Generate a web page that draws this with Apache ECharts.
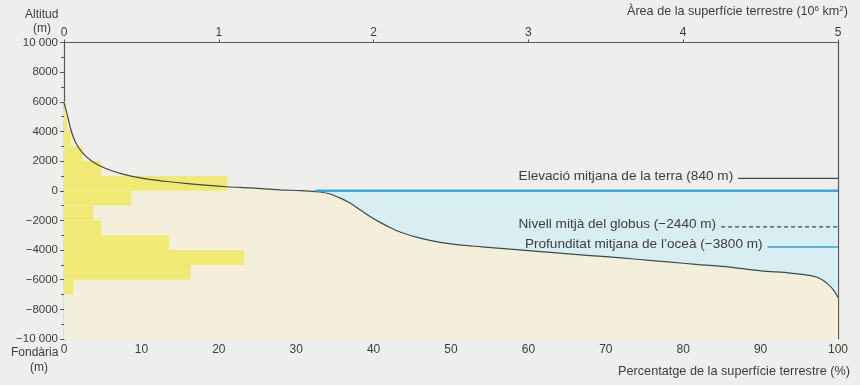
<!DOCTYPE html>
<html><head><meta charset="utf-8">
<script src="https://cdn.jsdelivr.net/npm/echarts@6/dist/echarts.min.js"></script>
<style>html,body{margin:0;padding:0;background:#eeeeec}#c{width:860px;height:385px}</style>
</head><body><div id="c"></div>
<script>
// Hypsometric curve: [percent of Earth's surface, elevation m]
const curvePct  = [0, 0.5, 0.9, 1.5, 2.4, 3.7, 5.4, 7.6, 10.2, 13, 16, 21, 24, 28, 30.5, 32.5, 34, 35.7, 37, 38.3, 39.6, 40.9, 42.2, 43.5, 46, 48.6, 51, 54, 58, 62, 66, 70, 74, 78, 82, 86, 90, 93.9, 96.5, 97.8, 98.7, 99.5, 100];
const curveElev = [5950, 4950, 4100, 3250, 2550, 1950, 1500, 1120, 830, 640, 480, 270, 190, 60, 10, -60, -170, -500, -850, -1300, -1750, -2150, -2500, -2800, -3200, -3480, -3650, -3780, -3950, -4120, -4290, -4450, -4620, -4800, -4980, -5150, -5400, -5550, -5730, -5950, -6300, -6750, -7200];
// Histogram: elevation bins (m) and percentage of surface
const binLow   = [5000, 4000, 3000, 2000, 1000, 0, -1000, -2000, -3000, -4000, -5000, -6000, -7000];
const binHigh  = [6000, 5000, 4000, 3000, 2000, 1000, 0, -1000, -2000, -3000, -4000, -5000, -6000];
const binPct   = [0.2, 0.45, 0.9, 2.4, 4.8, 21.1, 8.7, 3.8, 4.8, 13.6, 23.3, 16.4, 1.2];
// Ocean starts where curve reaches sea level
const oceanStartPct = 32.5;
// Reference levels
const meanLand = 840, meanGlobe = -2440, meanOcean = -3800;
const refStart = [87.1, 84.9, 90.9];
const refLabels = ['Elevació mitjana de la terra (840 m)', 'Nivell mitjà del globus (−2440 m)', 'Profunditat mitjana de l\u2019oceà (−3800 m)'];

const FONT = 'Liberation Sans, Arial, sans-serif';
const TXT = '#3c3c3c';
const AX = '#555a55';

const curve = curvePct.map((p,i)=>[p, curveElev[i]]);
const bins = binLow.map((l,i)=>[l, binHigh[i], binPct[i]]);

function yfmt(v){
  const a = Math.abs(v);
  const s = a === 10000 ? '10 000' : String(a);
  return (v < 0 ? '\u2212' : '') + s;
}

function refSeries(y, x0, label, color, type, w){
  return {
    type:'line', xAxisIndex:0, yAxisIndex:0, z:8, silent:true,
    symbol:'circle', symbolSize:0, showSymbol:true,
    lineStyle:{color:color, width:w, type:type},
    itemStyle:{color:color},
    data:[{value:[x0, y], label:{show:true, position:'left', distance:5, offset:[0,-2.5], formatter:label,
      color:TXT, fontFamily:FONT, fontSize:13.6}}, [100, y]]
  };
}

const chart = echarts.init(document.getElementById('c'), null, {renderer:'canvas'});
chart.setOption({
  backgroundColor:'#eeeeec',
  animation:false,
  grid:{left:64, right:22, top:42.5, bottom:46},
  xAxis:[{
    type:'value', min:0, max:100, interval:10, position:'bottom',
    axisLine:{show:true, lineStyle:{color:AX, width:1.2}},
    axisTick:{show:true, length:3, lineStyle:{color:AX}},
    axisLabel:{color:TXT, fontFamily:FONT, fontSize:12, margin:5},
    splitLine:{show:false}
  },{
    type:'value', min:0, max:5, interval:1, position:'top',
    axisLine:{show:true, onZero:false, lineStyle:{color:AX, width:1.2}},
    axisTick:{show:true, length:3, lineStyle:{color:AX}},
    axisLabel:{color:TXT, fontFamily:FONT, fontSize:12, margin:4},
    splitLine:{show:false}
  }],
  yAxis:[{
    type:'value', min:-10000, max:10000, interval:2000,
    axisLine:{show:true, onZero:false, lineStyle:{color:AX, width:1.2}},
    axisTick:{show:true, length:4, lineStyle:{color:AX}},
    minorTick:{show:true, splitNumber:2, length:3, lineStyle:{color:AX}},
    axisLabel:{color:TXT, fontFamily:FONT, fontSize:11.5, margin:6, formatter:yfmt},
    splitLine:{show:false}
  },{
    type:'value', min:-10000, max:10000, position:'right',
    axisLine:{show:true, onZero:false, lineStyle:{color:AX, width:1.2}},
    axisTick:{show:false}, axisLabel:{show:false}, splitLine:{show:false}
  }],
  graphic:[
    {type:'text', left:25, top:9, style:{text:'Altitud', fill:TXT, font:'12px '+FONT}},
    {type:'text', left:33, top:23, style:{text:'(m)', fill:TXT, font:'12px '+FONT}},
    {type:'text', left:11, top:347, style:{text:'Fondària', fill:TXT, font:'12px '+FONT}},
    {type:'text', left:30, top:362, style:{text:'(m)', fill:TXT, font:'12px '+FONT}},
    {type:'text', right:12, top:5, style:{
      rich:{n:{fontSize:12.6, fontFamily:FONT, fill:TXT}, s:{fontSize:8, fontFamily:FONT, fill:TXT, verticalAlign:'top', padding:[0,0,6,0]}},
      text:'{n|Àrea de la superfície terrestre (10}{s|6}{n| km}{s|2}{n|)}'}},
    {type:'text', right:10, top:365, style:{text:'Percentatge de la superfície terrestre (%)', fill:TXT, font:'12.7px '+FONT}}
  ],
  series:[
    { // ocean
      type:'line', z:1, silent:true, symbol:'none',
      data:[[oceanStartPct,0],[100,0]],
      lineStyle:{color:'#2fa6d4', width:2},
      areaStyle:{color:'#d9eef3', origin:'start', opacity:1}
    },
    { // land
      type:'line', z:2, silent:true, symbol:'none', smooth:0.3,
      data:curve, lineStyle:{width:0},
      areaStyle:{color:'#f4efda', origin:'start', opacity:1}
    },
    { // histogram
      type:'custom', z:3, silent:true,
      data:bins,
      renderItem:function(params, api){
        const p0 = api.coord([0, api.value(1)]);
        const p1 = api.coord([api.value(2), api.value(0)]);
        return {type:'rect', shape:{x:p0[0], y:p0[1], width:p1[0]-p0[0], height:p1[1]-p0[1]},
          style:{fill:'#f0ea74'}};
      },
      encode:{x:2, y:[0,1]}
    },
    { // curve
      type:'line', z:5, silent:true, symbol:'none', smooth:0.3,
      data:curve, lineStyle:{color:'#3a4a4c', width:1.2}
    },
    { // sea level line drawn above land
      type:'line', z:6, silent:true, symbol:'none',
      data:[[oceanStartPct,0],[100,0]],
      lineStyle:{color:'#2fa6d4', width:2}
    },
    refSeries(meanLand, refStart[0], refLabels[0], '#3a4a4c', 'solid', 1.2),
    refSeries(meanGlobe, refStart[1], refLabels[1], '#3a4a4c', [4,3], 1.2),
    refSeries(meanOcean, refStart[2], refLabels[2], '#2fa6d4', 'solid', 1.5)
  ]
});
</script></body></html>
